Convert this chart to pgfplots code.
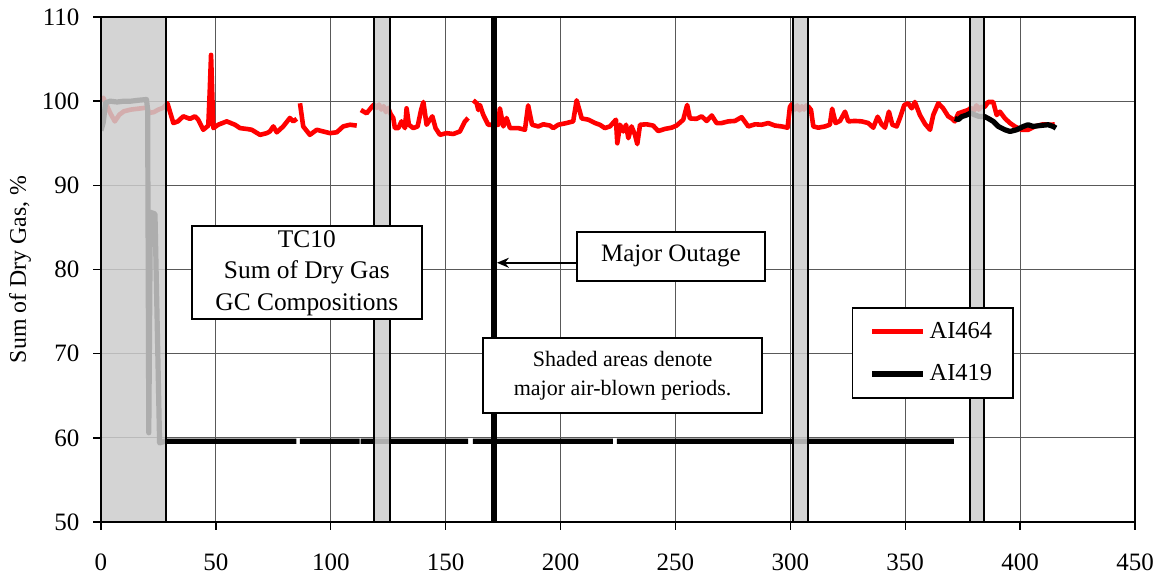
\documentclass[border=0pt]{standalone}
\usepackage{fontspec}
\setmainfont{Liberation Serif}
\usepackage{pgfplots}
\pgfplotsset{compat=1.18}
\usetikzlibrary{arrows.meta}
\begin{document}
\begin{tikzpicture}
\begin{axis}[
  scale only axis, width=517pt, height=252.5pt,
  xmin=0, xmax=450, ymin=50, ymax=110,
  xtick distance=50, ytick distance=10,
  xtick pos=bottom, ytick pos=left,
  grid=major, major grid style={black!65, line width=0.5pt},
  axis line style={black, line width=0.8pt},
  tick align=outside, major tick length=3.8pt, tick style={black, line width=0.7pt},
  /pgf/number format/assume math mode=true,
  tick label style={font=\fontsize{12.5}{14}\selectfont},
  xticklabel style={yshift=-8.5pt},
  yticklabel style={xshift=-3.5pt},
  ylabel={Sum of Dry Gas, \%},
  every axis y label/.style={at={(axis description cs:-0.0783,0.5)}, rotate=90, anchor=center, font=\fontsize{11.9}{13}\selectfont},
  unbounded coords=jump,
  legend style={at={(0.726,0.4257)}, anchor=north west, draw=black, line width=0.8pt,
    font=\fontsize{12.2}{14}\selectfont, row sep=7.5pt, inner xsep=8.5pt, inner ysep=5.2pt},
  legend cell align=left,
  legend image code/.code={\draw[#1] (0pt,0pt) -- (25.5pt,0pt);},
]
% AI464
\addplot[red, line width=2.3pt, line join=round] coordinates {
(0,100.2)(1,100.4)(2,99.8)(4,98.6)(6,97.6)(8,98.4)(10,98.8)(13,99.0)(16,99.1)(19,99.2)(20,99.3)(21,98.6)(23,98.7)(25,99.0)(27,99.2)
(28.9,99.75)(31.5,97.4)(33.5,97.6)(35.8,98.2)(38.7,97.9)(40.9,98.2)(42.3,97.8)(44.5,96.6)(46.7,97.1)(47.3,101)(47.9,105.5)(48.4,101)(48.9,96.8)
(51.0,97.2)(54.7,97.6)(58.3,97.2)(60.5,96.8)(63.4,96.7)(65.6,96.6)(69.2,96.0)(72.1,96.2)(73.5,96.4)(75.0,97.0)(76.5,96.3)(79.3,97.0)(82.2,98.0)(83.7,97.6)(85.2,97.9)
(85.9,nan)
(86.6,99.75)(88.0,97.0)(90.9,96.0)(93.9,96.6)(96.7,96.4)(99.6,96.2)(102.6,96.3)(105.4,97.0)(108.4,97.2)(111.3,97.1)
(112.2,nan)
(113.1,98.95)(115.6,98.56)(117.8,99.3)(118.8,99.6)(120,99.2)(121,99.6)(122,99.0)(123,99.4)(124,98.7)(125,99.2)(126,98.5)
(127.2,98.0)(127.9,96.8)(129.4,96.8)(130.8,97.6)(132.3,96.8)(133.0,99.15)(134.0,97.2)(135.9,96.8)(137.8,97.0)(139.3,98.95)(140.3,99.9)(141.7,97.2)
(144.2,98.2)(145.6,96.8)(147.5,96.0)(150.4,96.2)(153.3,96.1)(156.2,96.4)(158.4,97.6)(159.8,98.0)
(160.9,nan)
(162.0,100.1)(163.5,99.75)(164.2,98.95)(164.9,99.55)(166.4,98.35)(168.5,97.2)(172.9,97.2)(173.6,99.15)(175.1,97.0)(176.5,98.0)(178.0,96.8)
(181.6,96.8)(184.5,96.6)(185.9,99.5)(187.6,97.2)(190.3,97.0)(192.5,97.25)(195.4,97.1)(196.8,96.8)(199.0,97.2)(202.6,97.4)(205.5,97.6)(207.0,100.1)
(208.4,98.75)(209.2,97.95)(212.1,97.8)(215.0,97.4)(217.1,97.2)(219.3,96.8)(221.5,97.0)(224.1,97.8)(224.7,95.0)(225.9,97.2)(227.3,96.4)(228.5,97.2)
(229.5,95.6)(230.9,97.0)(232.4,96.0)(233.4,94.9)(234.6,97.2)(237.5,97.25)(240.3,97.1)(242.5,96.45)(245.4,96.7)(248.3,96.85)(250.5,97.1)(253.4,97.8)
(255.1,99.55)(256.3,97.95)(259.2,97.9)(261.4,98.2)(263.6,97.65)(265.8,98.3)(267.9,97.4)(270.1,97.4)(273.0,97.6)(275.9,97.65)(278.8,98.1)(281.7,97.0)
(284.6,97.25)(287.5,97.2)(290.4,97.4)(293.3,97.1)(296.2,97.0)(298.8,96.85)(299.8,99.3)(300.5,99.6)(302,99.0)(303,99.5)(304,98.9)(305,99.4)(306,99.0)
(307,99.5)(308,99.3)(309.0,98.95)(310.0,97.0)(312.2,96.85)(315.1,97.0)(317.2,97.2)(318.2,99.1)(319.7,97.4)(321.6,97.65)(323.8,98.75)(325.2,97.6)
(328.1,97.65)(331.0,97.6)(333.9,97.4)(336.1,96.85)(338.0,98.15)(339.7,97.25)(341.2,96.85)(342.9,98.75)(344.4,97.2)(346.3,97.0)(347.7,98.0)(349.6,99.55)
(351.3,99.75)(352.8,99.15)(354.2,99.9)(356.4,98.35)(358.6,97.3)(360.8,96.6)(362.2,98.35)(364.4,99.75)(366.5,99.15)(368.7,98.2)(370.2,97.95)(371.6,97.6)
(373.1,98.55)(375.2,98.75)(377.4,98.95)(378.5,99.2)(380,98.9)(381,99.5)(382,99.0)(383,99.3)(384.7,99.35)(386.1,99.9)(388.3,99.9)(389.8,98.35)
(391.2,98.75)(393.4,97.95)(395.6,97.4)(397.7,97.0)(400.6,96.6)(403.5,96.6)(406.4,97.0)(410.0,97.25)(413.7,97.2)(415.1,97.25)
};
\addlegendentry{AI464}
% AI419
\addplot[black, line width=2.6pt, line join=round] coordinates {
(0,96.5)(1,97.5)(2,99.8)(4,100.0)(7,99.9)(10,100.0)(13,100.0)(16,100.1)(19.8,100.2)(20.3,99)(20.8,60.6)(21.5,86.8)(23.5,86.6)(25.5,59.4)(28,59.6)
(85,59.6)(85.8,nan)(86.6,59.6)(112.5,59.6)(112.8,nan)(113,59.6)(159.8,59.6)(160.8,nan)(161.8,59.6)(222.8,59.6)(223.6,nan)(224.5,59.6)(371.2,59.6)
(371.4,nan)
(371.6,97.95)(373.1,97.8)(374.5,98.15)(376.7,98.35)(378.5,98.6)(380,98.4)(382,98.2)(384.7,98.15)(386.1,97.95)(388.3,97.6)(390.5,97.0)(393.4,96.6)
(395.6,96.4)(398.5,96.6)(401.4,97.0)(403.5,97.2)(405.7,97.0)(408.6,97.1)(412.2,97.2)(414.4,97.0)(415.6,96.8)
};
\addlegendentry{AI419}
% shaded air-blown periods
\addplot[forget plot, draw=black, line width=1pt, fill=black!20, fill opacity=0.85] coordinates {(0,50)(0,110)(28.1,110)(28.1,50)} --cycle;
\addplot[forget plot, draw=black, line width=1pt, fill=black!20, fill opacity=0.85] coordinates {(118.6,50)(118.6,110)(125.8,110)(125.8,50)} --cycle;
\addplot[forget plot, draw=black, line width=1pt, fill=black!20, fill opacity=0.85] coordinates {(301.1,50)(301.1,110)(307.8,110)(307.8,50)} --cycle;
\addplot[forget plot, draw=black, line width=1pt, fill=black!20, fill opacity=0.85] coordinates {(378.0,50)(378.0,110)(384.2,110)(384.2,50)} --cycle;
% major outage
\addplot[forget plot, black, line width=3pt] coordinates {(170.9,50)(170.9,110)};
% annotations
\node[draw=black, line width=1pt, fill=white, align=center, minimum width=115pt, minimum height=46.5pt, inner sep=1pt,
  font=\fontsize{12.7}{15.8}\selectfont] at (axis cs:89.6,79.6) {TC10\\Sum of Dry Gas\\GC Compositions};
\node[draw=black, line width=1pt, fill=white, align=center, minimum width=94.3pt, minimum height=24.5pt, inner sep=1pt,
  font=\fontsize{12.5}{14}\selectfont] at (axis cs:248.0,81.6) {Major Outage};
\draw[-{Stealth[length=6pt,width=5pt]}, line width=0.8pt] (axis cs:207.0,80.8) -- (axis cs:172.3,80.8);
\node[draw=black, line width=1pt, fill=white, align=center, minimum width=139.3pt, minimum height=37.5pt, inner sep=1pt,
  font=\fontsize{11}{14.2}\selectfont] at (axis cs:227.0,67.4) {Shaded areas denote\\major air-blown periods.};
\coordinate (SW) at (rel axis cs:0,0);
\coordinate (NE) at (rel axis cs:1,1);
\end{axis}
\pgfresetboundingbox
\path[use as bounding box] ([shift={(-50.5pt,-27.5pt)}]SW) rectangle ([shift={(13.5pt,8.5pt)}]NE);
\end{tikzpicture}
\end{document}
